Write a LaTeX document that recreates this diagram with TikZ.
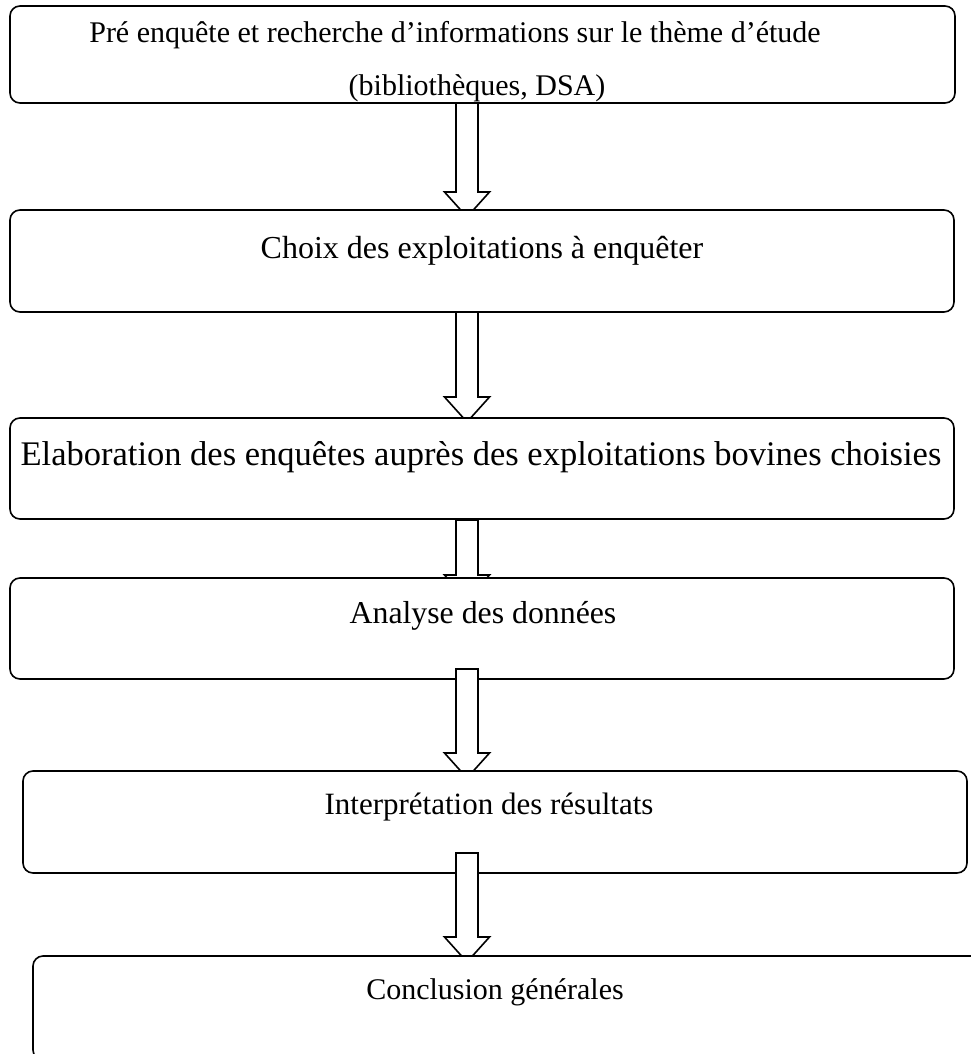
\documentclass[tikz,border=0pt]{standalone}
\usepackage{fontspec}
\setmainfont{Liberation Serif}
\usetikzlibrary{calc}
\newcommand\hollowarrow[2]{%
  \draw[blockarrow] ($(#1)+(-11,0)$) -- ($(#2)+(-11,-25)$) -- ($(#2)+(-22.5,-25)$) -- (#2)
    -- ($(#2)+(22.5,-25)$) -- ($(#2)+(11,-25)$) -- ($(#1)+(11,0)$) -- cycle;}
\begin{document}
\begin{tikzpicture}[x=1pt,y=-1pt,
  boxstyle/.style={draw=black, line width=1.6pt, fill=white, rounded corners=10pt, anchor=north west, inner sep=0pt, outer sep=0pt},
  blockarrow/.style={draw=black, line width=1.6pt, fill=white, line join=miter},
  lbl/.style={anchor=base, inner sep=0pt, font=\fontsize{30}{36}\selectfont}]
\useasboundingbox (0,0) rectangle (971,1054);
\clip (0,0) rectangle (971,1054);
\fill[white] (0,0) rectangle (971,1054);

% box 1
\node[boxstyle, minimum width=945pt, minimum height=97pt] (b1) at (10,6) {};
\node[lbl] (t1a) at (455,43) {Pré enquête et recherche d’informations sur le thème d’étude};
\node[lbl] (t1b) at (477,96) {(bibliothèques, DSA)};
\coordinate (a1s) at (467,103);
\coordinate (a1e) at (467,217);
\hollowarrow{a1s}{a1e}

% box 2
\node[boxstyle, minimum width=944pt, minimum height=102pt] (b2) at (10,210) {};
\node[lbl, font=\fontsize{32}{38}\selectfont] (t2) at (482,258) {Choix des exploitations à enquêter};
\coordinate (a2s) at (467,312);
\coordinate (a2e) at (467,422);
\hollowarrow{a2s}{a2e}

% box 3
\node[boxstyle, minimum width=944pt, minimum height=101pt] (b3) at (10,418) {};
\node[lbl, font=\fontsize{34.5}{40}\selectfont] (t3) at (481,465) {Elaboration des enquêtes auprès des exploitations bovines choisies};
\coordinate (a3s) at (467,520);
\coordinate (a3e) at (467,600);
\hollowarrow{a3s}{a3e}

% box 4
\node[boxstyle, minimum width=944pt, minimum height=101pt] (b4) at (10,578) {};
\node[lbl, font=\fontsize{31.8}{38}\selectfont] (t4) at (483,623) {Analyse des données};
\coordinate (a4s) at (467,669);
\coordinate (a4e) at (467,778);
\hollowarrow{a4s}{a4e}

% box 5
\node[boxstyle, minimum width=944pt, minimum height=102pt] (b5) at (23,771) {};
\node[lbl, font=\fontsize{31}{37}\selectfont] (t5) at (489,814) {Interprétation des résultats};
\coordinate (a5s) at (467,853);
\coordinate (a5e) at (467,962);
\hollowarrow{a5s}{a5e}

% box 6
\node[boxstyle, minimum width=957pt, minimum height=104pt] (b6) at (33,956) {};
\node[lbl] (t6) at (495,999) {Conclusion générales};
\end{tikzpicture}
\end{document}
